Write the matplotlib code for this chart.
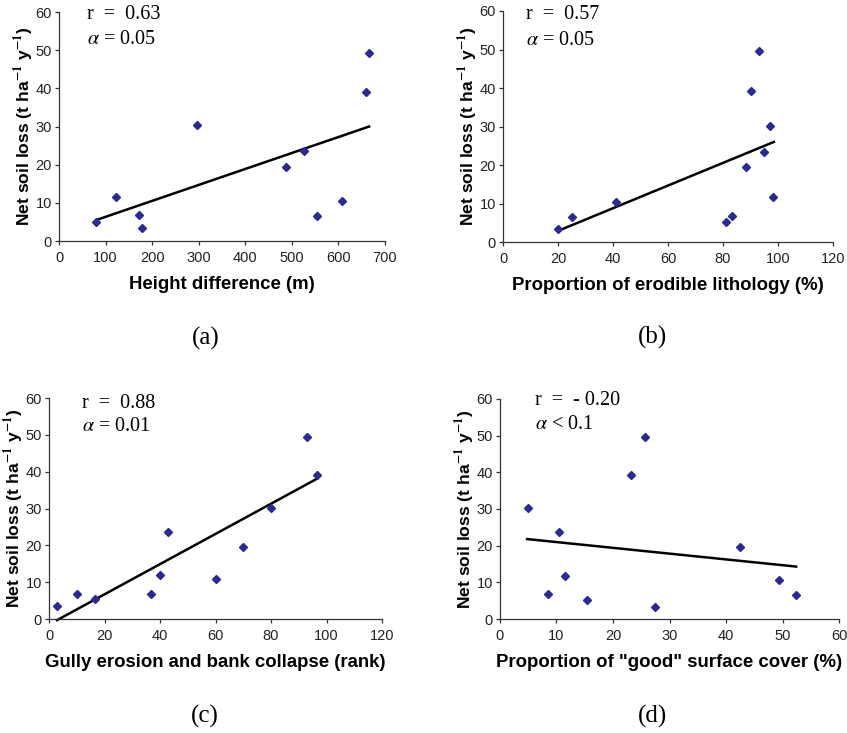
import matplotlib
matplotlib.use("Agg")
import matplotlib.pyplot as plt

plt.rcParams['font.family'] = ['Liberation Sans', 'DejaVu Sans']
plt.rcParams['mathtext.fontset'] = 'stix'

# y values (net soil loss, t/ha/y)
# (a) height difference (m)
height_x = [80, 122, 172, 178, 297, 487, 527, 553, 607, 659, 666]
height_y = [5.1, 11.6, 6.8, 3.3, 30.3, 19.5, 23.7, 6.5, 10.5, 39.0, 49.2]
height_fit_x = [80, 666]
height_fit_y = [5.5, 30.0]

# (b) proportion of erodible lithology (%)
litho_x = [20.1, 25.0, 40.9, 80.9, 83.1, 88.2, 90.0, 93.1, 95.0, 97.0, 98.2]
litho_y = [3.5, 6.5, 10.5, 5.1, 6.8, 19.5, 39.2, 49.5, 23.5, 30.2, 11.7]
litho_fit_x = [20, 98.5]
litho_fit_y = [2.9, 26.0]

# (c) gully erosion and bank collapse (rank)
gully_x = [2.9, 10.0, 16.5, 36.6, 39.9, 42.9, 60.2, 69.8, 79.9, 93.0, 96.6]
gully_y = [3.6, 6.9, 5.3, 6.7, 11.9, 23.6, 10.8, 19.6, 30.2, 49.3, 39.2]
gully_fit_x = [2.9, 96.6]
gully_fit_y = [-0.3, 38.1]

# (d) proportion of "good" surface cover (%)
cover_x = [4.95, 8.5, 10.5, 11.5, 15.4, 23.2, 25.6, 27.5, 42.4, 49.4, 52.3]
cover_y = [30.3, 6.7, 23.7, 11.6, 5.1, 39.2, 49.5, 3.4, 19.6, 10.6, 6.5]
cover_fit_x = [4.8, 52.4]
cover_fit_y = [21.8, 14.3]

panels = [
    dict(x=height_x, y=height_y, fx=height_fit_x, fy=height_fit_y,
         xlim=700, xstep=100, xlabel='Height difference (m)',
         r='r  =  0.63', a=r'$\alpha$ = 0.05', cap='(a)',
         pos=[0.0697, 0.6712, 0.3848, 0.3124], tx=0.086, ty=[0.99, 0.882], capxy=(206, 338)),
    dict(x=litho_x, y=litho_y, fx=litho_fit_x, fy=litho_fit_y,
         xlim=120, xstep=20, xlabel='Proportion of erodible lithology (%)',
         r='r  =  0.57', a=r'$\alpha$ = 0.05', cap='(b)',
         pos=[0.5939, 0.6698, 0.3896, 0.3152], tx=0.07, ty=[0.983, 0.874], capxy=(652, 337)),
    dict(x=gully_x, y=gully_y, fx=gully_fit_x, fy=gully_fit_y,
         xlim=120, xstep=20, xlabel='Gully erosion and bank collapse (rank)',
         r='r  =  0.88', a=r'$\alpha$ = 0.01', cap='(c)',
         pos=[0.0579, 0.1555, 0.3931, 0.3015], tx=0.099, ty=[0.977, 0.869], capxy=(205, 716)),
    dict(x=cover_x, y=cover_y, fx=cover_fit_x, fy=cover_fit_y,
         xlim=60, xstep=10, xlabel='Proportion of "good" surface cover (%)',
         r='r  =  - 0.20', a=r'$\alpha$ < 0.1', cap='(d)',
         pos=[0.5903, 0.1555, 0.4003, 0.3002], tx=0.103, ty=[0.995, 0.885], capxy=(652, 716)),
]

fig = plt.figure(figsize=(8.47, 7.33), dpi=100)

for p in panels:
    ax = fig.add_axes(p['pos'])
    ax.plot(p['fx'], p['fy'], color='black', lw=1.8, clip_on=False, zorder=2)
    ax.plot(p['x'], p['y'], 'D', color='#2a2a92', ms=3.8, clip_on=False, zorder=3)
    ax.set_xlim(0, p['xlim'])
    ax.set_ylim(0, 60)
    ax.set_xticks(range(0, p['xlim'] + 1, p['xstep']))
    ax.set_yticks(range(0, 61, 10))
    for s in ['top', 'right']:
        ax.spines[s].set_visible(False)
    for s in ['left', 'bottom']:
        ax.spines[s].set_color('#333333')
        ax.spines[s].set_linewidth(0.9)
    ax.tick_params(direction='out', length=3, width=0.9, color='#333333',
                   labelsize=10.5, labelcolor='#222222')
    ax.tick_params(axis='x', pad=4)
    ax.tick_params(axis='y', pad=2)
    ax.set_xlabel(p['xlabel'], fontsize=13.4, fontweight='bold', labelpad=8)
    ax.set_ylabel(r'Net soil loss (t ha$^{\mathbf{-1}}$ y$^{\mathbf{-1}}$)',
                  fontsize=12.6, fontweight='bold', labelpad=0)
    ax.text(p['tx'], p['ty'][0], p['r'], transform=ax.transAxes, va='center',
            fontsize=14.5, family='Liberation Serif')
    ax.text(p['tx'], p['ty'][1], p['a'], transform=ax.transAxes, va='center',
            fontsize=14.5, family='Liberation Serif')
    fig.text(p['capxy'][0] / 847, 1 - p['capxy'][1] / 733, p['cap'],
             ha='center', va='center', fontsize=18, family='Liberation Serif')

fig.savefig('out.png', dpi=100)
